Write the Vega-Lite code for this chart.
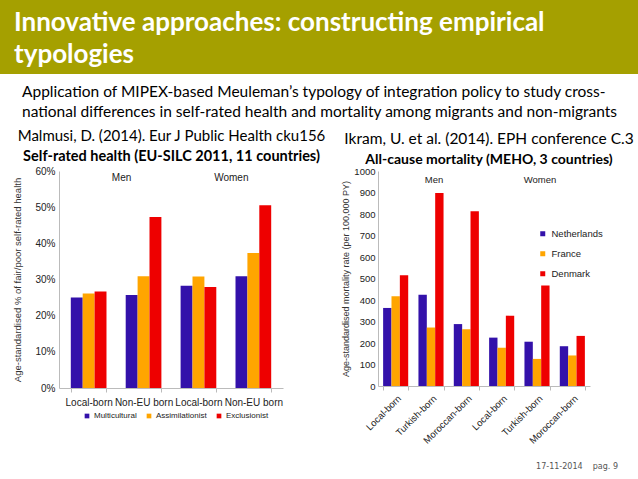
{
  "$schema": "https://vega.github.io/schema/vega-lite/v6.json",
  "padding": 0,
  "background": "white",
  "config": {"view": {"stroke": null}, "font": "Liberation Sans"},
  "title": {"text": "17-11-2014\u00a0\u00a0\u00a0\u00a0pag. 9", "orient": "bottom", "anchor": "end", "font": "DejaVu Sans", "fontSize": 8, "fontWeight": "normal", "color": "#555", "dx": -20, "offset": 18},
  "datasets": {
    "header": [
      {"line": 1, "text": "Innovative approaches: constructing empirical"},
      {"line": 2, "text": "typologies"}
    ],
    "srh": [
      {"grp": "Men|Local-born", "policy": "Multicultural", "value": 25.0},
      {"grp": "Men|Local-born", "policy": "Assimilationist", "value": 26.1},
      {"grp": "Men|Local-born", "policy": "Exclusionist", "value": 26.7},
      {"grp": "Men|Non-EU born", "policy": "Multicultural", "value": 25.7},
      {"grp": "Men|Non-EU born", "policy": "Assimilationist", "value": 30.9},
      {"grp": "Men|Non-EU born", "policy": "Exclusionist", "value": 47.3},
      {"grp": "Women|Local-born", "policy": "Multicultural", "value": 28.3},
      {"grp": "Women|Local-born", "policy": "Assimilationist", "value": 30.8},
      {"grp": "Women|Local-born", "policy": "Exclusionist", "value": 27.9},
      {"grp": "Women|Non-EU born", "policy": "Multicultural", "value": 30.9},
      {"grp": "Women|Non-EU born", "policy": "Assimilationist", "value": 37.3},
      {"grp": "Women|Non-EU born", "policy": "Exclusionist", "value": 50.5}
    ],
    "srhLabels": [
      {"grp": "Men|Non-EU born", "label": "Men"},
      {"grp": "Women|Non-EU born", "label": "Women"}
    ],
    "mort": [
      {"grp": "Men|Local-born", "country": "Netherlands", "value": 363},
      {"grp": "Men|Local-born", "country": "France", "value": 417},
      {"grp": "Men|Local-born", "country": "Denmark", "value": 515},
      {"grp": "Men|Turkish-born", "country": "Netherlands", "value": 425},
      {"grp": "Men|Turkish-born", "country": "France", "value": 272},
      {"grp": "Men|Turkish-born", "country": "Denmark", "value": 898},
      {"grp": "Men|Moroccan-born", "country": "Netherlands", "value": 288},
      {"grp": "Men|Moroccan-born", "country": "France", "value": 264},
      {"grp": "Men|Moroccan-born", "country": "Denmark", "value": 813},
      {"grp": "Women|Local-born", "country": "Netherlands", "value": 225},
      {"grp": "Women|Local-born", "country": "France", "value": 178},
      {"grp": "Women|Local-born", "country": "Denmark", "value": 327},
      {"grp": "Women|Turkish-born", "country": "Netherlands", "value": 206},
      {"grp": "Women|Turkish-born", "country": "France", "value": 126},
      {"grp": "Women|Turkish-born", "country": "Denmark", "value": 468},
      {"grp": "Women|Moroccan-born", "country": "Netherlands", "value": 185},
      {"grp": "Women|Moroccan-born", "country": "France", "value": 142},
      {"grp": "Women|Moroccan-born", "country": "Denmark", "value": 233}
    ],
    "mortLabels": [
      {"grp": "Men|Turkish-born", "label": "Men"},
      {"grp": "Women|Turkish-born", "label": "Women"}
    ]
  },
  "spacing": 11,
  "vconcat": [
    {
      "width": 638,
      "height": 74,
      "view": {"fill": "#a5a000", "stroke": null},
      "data": {"name": "header"},
      "mark": {"type": "text", "align": "left", "baseline": "middle", "dx": 14, "dy": 2, "font": "Lato", "fontSize": 26, "fontWeight": "bold", "color": "white"},
      "encoding": {
        "y": {"field": "line", "type": "ordinal", "axis": null, "scale": {"type": "point", "padding": 0.68}},
        "x": {"datum": 0, "type": "quantitative", "axis": null, "scale": {"domain": [0, 1]}},
        "text": {"field": "text"}
      }
    },
    {
      "title": {
        "text": ["Application of MIPEX-based Meuleman’s typology of integration policy to study cross-", "national differences in self-rated health and mortality among migrants and non-migrants"],
        "anchor": "start", "frame": "group", "dx": 22, "offset": 8,
        "font": "Lato", "fontSize": 15.5, "fontWeight": "normal", "color": "black", "lineHeight": 20
      },
      "bounds": "flush",
      "spacing": 95,
      "resolve": {"scale": {"color": "independent", "xOffset": "independent", "x": "independent", "y": "independent"}, "legend": {"color": "independent"}},
      "hconcat": [
        {
          "width": 283,
          "height": 217,
          "title": {
            "text": "Malmusi, D. (2014). Eur J Public Health cku156",
            "subtitle": "Self-rated health (EU-SILC 2011, 11 countries)",
            "anchor": "middle", "offset": 3, "dx": 30,
            "font": "Lato", "fontSize": 15, "fontWeight": "normal", "color": "black",
            "subtitleFont": "Lato", "subtitleFontSize": 14.5, "subtitleFontWeight": "bold", "subtitleColor": "black", "subtitlePadding": 6
          },
          "layer": [
            {
              "data": {"name": "srh"},
              "mark": {"type": "bar"},
              "encoding": {
                "x": {
                  "field": "grp", "type": "nominal",
                  "sort": ["Men|Local-born", "Men|Non-EU born", "Women|Local-born", "Women|Non-EU born"],
                  "scale": {"range": [59, 283], "paddingInner": 0.35, "paddingOuter": 0.215},
                  "axis": {"title": null, "labelExpr": "split(datum.label, '|')[1]", "labelAngle": 0, "tickBand": "extent", "domainColor": "#bbb", "tickColor": "#bbb", "tickSize": 4, "labelFontSize": 10, "labelColor": "#222", "labelPadding": 5}
                },
                "xOffset": {"field": "policy", "type": "nominal", "sort": ["Multicultural", "Assimilationist", "Exclusionist"]},
                "y": {
                  "field": "value", "type": "quantitative",
                  "scale": {"domain": [0, 60], "nice": false},
                  "axis": {"title": "Age-standardised % of fair/poor self-rated health", "offset": -59, "tickCount": 6, "labelExpr": "datum.value + '%'", "labelOverlap": false, "grid": false, "ticks": false, "domainColor": "#bbb", "labelFontSize": 10, "labelColor": "#222", "labelPadding": 4, "titleFontSize": 9.5, "titleFontWeight": "normal", "titleColor": "#333", "titleX": -37, "titlePadding": 9}
                },
                "color": {
                  "field": "policy", "type": "nominal",
                  "sort": ["Multicultural", "Assimilationist", "Exclusionist"],
                  "scale": {"domain": ["Multicultural", "Assimilationist", "Exclusionist"], "range": ["#3311aa", "#ffa500", "#ee0000"]},
                  "legend": {"orient": "none", "legendX": 83, "legendY": 241, "direction": "horizontal", "title": null, "symbolType": "square", "symbolSize": 22, "labelFontSize": 8, "labelColor": "#222", "columnPadding": 8, "labelOffset": 3, "symbolStrokeWidth": 0}
                }
              }
            },
            {
              "data": {"name": "srhLabels"},
              "mark": {"type": "text", "dx": -22, "fontSize": 10, "color": "#222"},
              "encoding": {
                "x": {"field": "grp", "type": "nominal", "sort": ["Men|Local-born", "Men|Non-EU born", "Women|Local-born", "Women|Non-EU born"]},
                "y": {"datum": 58, "type": "quantitative"},
                "text": {"field": "label"}
              }
            }
          ]
        },
        {
          "width": 212,
          "height": 215,
          "title": {
            "text": "Ikram, U. et al. (2014). EPH conference C.3",
            "subtitle": "All-cause mortality (MEHO, 3 countries)",
            "anchor": "middle", "offset": -1, "dx": 5,
            "font": "Lato", "fontSize": 15.5, "fontWeight": "normal", "color": "black",
            "subtitleFont": "Lato", "subtitleFontSize": 14, "subtitleFontWeight": "bold", "subtitleColor": "black", "subtitlePadding": 6
          },
          "layer": [
            {
              "data": {"name": "mort"},
              "mark": {"type": "bar"},
              "encoding": {
                "x": {
                  "field": "grp", "type": "nominal",
                  "sort": ["Men|Local-born", "Men|Turkish-born", "Men|Moroccan-born", "Women|Local-born", "Women|Turkish-born", "Women|Moroccan-born"],
                  "scale": {"paddingInner": 0.29, "paddingOuter": 0.145},
                  "axis": {"title": null, "labelExpr": "split(datum.label, '|')[1]", "labelAngle": -45, "tickBand": "extent", "domainColor": "#bbb", "tickColor": "#bbb", "tickSize": 4, "labelFontSize": 9.5, "labelColor": "#222", "labelPadding": 3}
                },
                "xOffset": {"field": "country", "type": "nominal", "sort": ["Netherlands", "France", "Denmark"]},
                "y": {
                  "field": "value", "type": "quantitative",
                  "scale": {"domain": [0, 1000], "nice": false},
                  "axis": {"title": "Age-standardised mortality rate (per 100,000 PY)", "tickCount": 10, "format": "d", "labelOverlap": false, "grid": false, "ticks": false, "domainColor": "#bbb", "labelFontSize": 9.5, "labelColor": "#222", "labelPadding": 3, "titleFontSize": 9, "titleFontWeight": "normal", "titleColor": "#333", "titlePadding": 3}
                },
                "color": {
                  "field": "country", "type": "nominal",
                  "sort": ["Netherlands", "France", "Denmark"],
                  "scale": {"domain": ["Netherlands", "France", "Denmark"], "range": ["#3311aa", "#ffa500", "#ee0000"]},
                  "legend": {"orient": "none", "legendX": 160, "legendY": 58, "direction": "vertical", "title": null, "symbolType": "square", "symbolSize": 25, "labelFontSize": 9.5, "labelColor": "#222", "rowPadding": 9, "symbolStrokeWidth": 0}
                }
              }
            },
            {
              "data": {"name": "mortLabels"},
              "mark": {"type": "text", "dx": 3, "fontSize": 9.5, "color": "#222"},
              "encoding": {
                "x": {"field": "grp", "type": "nominal", "sort": ["Men|Local-born", "Men|Turkish-born", "Men|Moroccan-born", "Women|Local-born", "Women|Turkish-born", "Women|Moroccan-born"]},
                "y": {"datum": 960, "type": "quantitative"},
                "text": {"field": "label"}
              }
            }
          ]
        }
      ]
    }
  ]
}
